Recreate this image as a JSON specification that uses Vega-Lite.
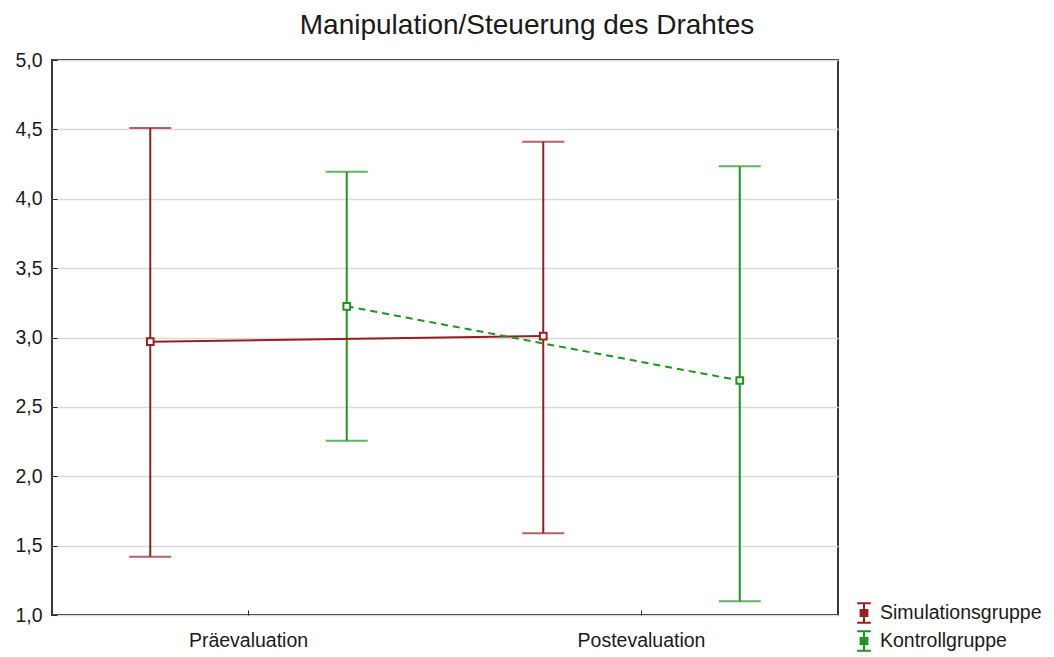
{
  "$schema": "https://vega.github.io/schema/vega-lite/v6.json",
  "autosize": {"type": "none"},
  "width": 786,
  "height": 555,
  "padding": {"left": 52, "top": 60, "right": 216, "bottom": 42},
  "background": "white",
  "title": {
    "text": "Manipulation/Steuerung des Drahtes",
    "font": "Liberation Sans",
    "fontSize": 28,
    "fontWeight": "normal",
    "color": "#1a1a1a",
    "anchor": "middle",
    "frame": "group",
    "dx": 82,
    "offset": 10
  },
  "config": {
    "view": {"stroke": "#222222", "strokeWidth": 1.8},
    "axis": {"labelFont": "Liberation Sans", "labelFontSize": 19.5, "labelColor": "#1a1a1a", "domain": false, "tickColor": "#222222"},
    "legend": {"labelFont": "Liberation Sans", "labelFontSize": 19.5, "labelColor": "#1a1a1a"}
  },
  "data": {
    "values": [
      {"phase": "Präevaluation", "group": "Simulationsgruppe", "mean": 2.97, "lower": 1.42, "upper": 4.51},
      {"phase": "Präevaluation", "group": "Kontrollgruppe", "mean": 3.225, "lower": 2.255, "upper": 4.195},
      {"phase": "Postevaluation", "group": "Simulationsgruppe", "mean": 3.01, "lower": 1.59, "upper": 4.41},
      {"phase": "Postevaluation", "group": "Kontrollgruppe", "mean": 2.69, "lower": 1.10, "upper": 4.235}
    ]
  },
  "encoding": {
    "x": {
      "field": "phase", "type": "nominal", "sort": ["Präevaluation", "Postevaluation"],
      "scale": {"paddingInner": 0, "paddingOuter": 0},
      "axis": {"title": null, "labelAngle": 0, "tickSize": -5, "tickBand": "center", "labelPadding": 21, "grid": false}
    },
    "xOffset": {
      "field": "group", "type": "nominal", "sort": ["Simulationsgruppe", "Kontrollgruppe"],
      "scale": {"paddingInner": 0, "paddingOuter": 0}
    },
    "color": {
      "field": "group", "type": "nominal", "sort": ["Simulationsgruppe", "Kontrollgruppe"],
      "scale": {"domain": ["Simulationsgruppe", "Kontrollgruppe"], "range": ["#961f24", "#1c961c"]},
      "legend": {
        "title": null,
        "orient": "none",
        "legendX": 801,
        "legendY": 542,
        "symbolType": "M-0.7,-1H0.7M0,-1V1M-0.7,1H0.7M-0.35,-0.3H0.35V0.3H-0.35Z",
        "symbolSize": 380,
        "symbolStrokeWidth": 2,
        "symbolFillColor": "white",
        "symbolOpacity": 1,
        "rowPadding": 0,
        "labelOffset": 5,
        "labelLimit": 400
      }
    }
  },
  "layer": [
    {
      "mark": {"type": "rule", "strokeWidth": 2},
      "encoding": {
        "y": {
          "field": "lower", "type": "quantitative",
          "scale": {"domain": [1, 5], "nice": false, "zero": false},
          "axis": {"title": null, "values": [1, 1.5, 2, 2.5, 3, 3.5, 4, 4.5, 5], "labelExpr": "replace(format(datum.value, '.1f'), '.', ',')", "grid": true, "gridColor": "#dadada", "gridWidth": 1.5, "tickSize": -5, "labelPadding": 15}
        },
        "y2": {"field": "upper"}
      }
    },
    {
      "mark": {"type": "tick", "thickness": 2, "size": 42},
      "encoding": {"y": {"field": "upper", "type": "quantitative"}}
    },
    {
      "mark": {"type": "tick", "thickness": 2, "size": 42},
      "encoding": {"y": {"field": "lower", "type": "quantitative"}}
    },
    {
      "transform": [{"filter": "datum.group === 'Simulationsgruppe'"}],
      "mark": {"type": "line", "strokeWidth": 2},
      "encoding": {
        "y": {"field": "mean", "type": "quantitative"}
      }
    },
    {
      "transform": [{"filter": "datum.group === 'Kontrollgruppe'"}],
      "mark": {"type": "line", "strokeWidth": 2, "strokeDash": [7, 5]},
      "encoding": {
        "y": {"field": "mean", "type": "quantitative"}
      }
    },
    {
      "mark": {"type": "point", "shape": "square", "size": 45, "filled": false, "fill": "white", "fillOpacity": 1, "strokeWidth": 2},
      "encoding": {
        "y": {"field": "mean", "type": "quantitative"}
      }
    }
  ]
}
